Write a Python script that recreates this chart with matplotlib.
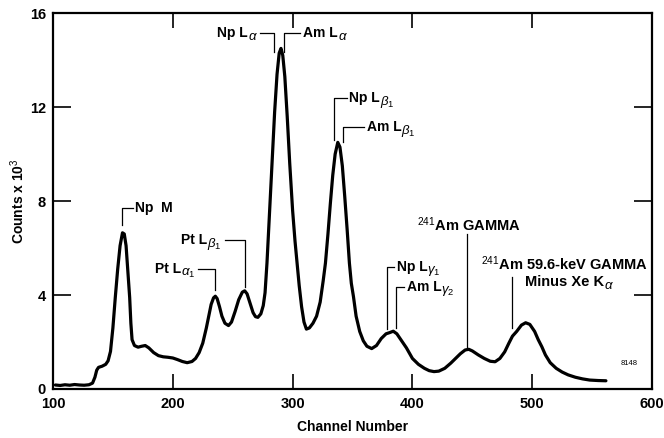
import matplotlib
matplotlib.use('Agg')
from matplotlib import pyplot as plt

plt.rcParams['font.family'] = ['Liberation Sans', 'DejaVu Sans']
plt.rcParams['mathtext.fontset'] = 'custom'
plt.rcParams['mathtext.rm'] = 'Liberation Sans'
plt.rcParams['mathtext.it'] = 'Liberation Sans:italic'
plt.rcParams['mathtext.bf'] = 'Liberation Sans:bold'

# spectrum (channel, counts x 10^3)
channel = [102, 106, 110, 114, 118, 122, 126, 130, 133, 135, 136.5, 138, 141, 144, 146, 148,
           150, 152, 154, 156, 158, 159.5, 161, 162.5, 164, 165, 166, 168, 171, 174, 177, 180,
           184, 188, 192, 196, 200, 204, 208, 212, 216, 219, 222, 225, 228, 230, 232, 234,
           235.5, 237, 239, 241, 243.5, 246.5, 249, 252, 255, 258, 260, 262, 264.5, 267, 269,
           271, 273.5, 275.5, 277, 278.6, 280.5, 282.8, 285, 287, 288.8, 290.3, 291.8, 293.5,
           295.5, 297.6, 300, 302, 303.7, 305.5, 307.5, 309.5, 311.5, 314, 317, 320, 323,
           325.5, 327.4, 329.5, 331.5, 333.5, 335.5, 337.7, 339.5, 341.5, 343.5, 345.5, 347.4,
           349, 350.8, 353, 356, 359, 362, 366, 370, 374, 378, 381, 384, 387, 391, 395, 400,
           405, 410, 414, 418, 422, 427, 432, 436, 440, 444, 447, 450, 455, 460, 465, 469,
           473, 477, 480.5, 483.5, 487, 491, 494.5, 498, 502, 505, 508, 511, 515, 520, 525,
           530, 536, 542, 548, 555, 561.5]
counts = [0.17, 0.15, 0.18, 0.16, 0.19, 0.17, 0.16, 0.18, 0.25, 0.5, 0.8, 0.92, 0.97, 1.05, 1.2, 1.6,
          2.6, 3.9, 5.1, 6.1, 6.65, 6.6, 6.1, 5.0, 3.9, 2.8, 2.1, 1.85, 1.78, 1.82, 1.85, 1.75,
          1.55, 1.42, 1.37, 1.35, 1.32, 1.25, 1.17, 1.12, 1.17, 1.3, 1.55, 1.95, 2.6, 3.1, 3.6, 3.88,
          3.95, 3.85, 3.5, 3.1, 2.8, 2.7, 2.85, 3.3, 3.8, 4.12, 4.18, 4.05, 3.65, 3.25, 3.08,
          3.05, 3.2, 3.55, 4.1, 5.36, 7.3, 9.6, 11.8, 13.4, 14.3, 14.5, 14.2, 13.3,
          11.6, 9.6, 7.6, 6.3, 5.36, 4.4, 3.5, 2.85, 2.55, 2.6, 2.8, 3.1, 3.7,
          4.6, 5.36, 6.6, 7.9, 9.1, 10.0, 10.5, 10.3, 9.5, 8.2, 6.8, 5.36,
          4.5, 3.93, 3.1, 2.45, 2.05, 1.82, 1.72, 1.85, 2.15, 2.35, 2.4, 2.46, 2.35, 2.05, 1.75, 1.3,
          1.05, 0.88, 0.78, 0.74, 0.76, 0.88, 1.1, 1.3, 1.5, 1.66, 1.69, 1.62, 1.45, 1.3, 1.18, 1.16,
          1.3, 1.58, 1.95, 2.25, 2.45, 2.72, 2.82, 2.75, 2.45, 2.1, 1.8, 1.45, 1.12, 0.88, 0.72,
          0.6, 0.5, 0.43, 0.38, 0.36, 0.35]

x_ticks = [100, 200, 300, 400, 500, 600]
y_ticks = [0, 4, 8, 12, 16]

# peak labels: text, subscript, peak channel, line bottom, line top, end of horizontal, side
labels = [
    ('Np  M', '', 157.4, 7.0, 7.7, 166.5, 'left'),
    ('Pt L', r'$\beta_1$', 260, 4.35, 6.34, 243.5, 'right'),
    ('Pt L', r'$\alpha_1$', 235.5, 4.2, 5.1, 221, 'right'),
    ('Np L', r'$\alpha$', 284.8, 14.35, 15.16, 273, 'right'),
    ('Am L', r'$\alpha$', 293, 14.35, 15.16, 306.5, 'left'),
    ('Np L', r'$\beta_1$', 334.4, 10.6, 12.4, 345, 'left'),
    ('Am L', r'$\beta_1$', 342.2, 10.5, 11.16, 359.5, 'left'),
    ('Np L', r'$\gamma_1$', 379, 2.55, 5.2, 384.5, 'left'),
    ('Am L', r'$\gamma_2$', 386.5, 2.6, 4.35, 393, 'left'),
]
gamma_lines = [(445.9, 1.8, 6.6), (483.5, 2.6, 4.78)]


fig = plt.figure(figsize=(6.64, 4.38), dpi=100)
ax = fig.add_axes([0.0798, 0.1119, 0.9022, 0.858])

ax.plot(channel, counts, color='black', linewidth=2.3, solid_joinstyle='round', solid_capstyle='round')

font = dict(fontsize=10, fontweight='bold')
subfont = dict(fontsize=9.5, fontweight='bold')
for text, sub, xp, y0, y1, xt, side in labels:
    ax.plot([xp, xp, xt], [y0, y1, y1], color='black', linewidth=0.9)
    if side == 'left':
        t = ax.annotate(text, xy=(xt, y1), xytext=(2, 0), textcoords='offset points',
                        ha='left', va='center', **font)
        if sub:
            ax.annotate(sub, xy=(1, 0.5), xycoords=t, xytext=(0, -3),
                        textcoords='offset points', ha='left', va='center', **subfont)
    else:
        s = ax.annotate(sub, xy=(xt, y1), xytext=(-2, -3), textcoords='offset points',
                        ha='right', va='center', **subfont)
        ax.annotate(text, xy=(0, 0.5), xycoords=s, xytext=(0, 3),
                    textcoords='offset points', ha='right', va='center', **font)

for xp, y0, y1 in gamma_lines:
    ax.plot([xp, xp], [y0, y1], color='black', linewidth=0.9)

ax.text(447, 7.0, r'$^{241}$Am GAMMA', ha='center', va='center', fontsize=10.5, fontweight='bold')
ax.text(526.5, 5.35, r'$^{241}$Am 59.6-keV GAMMA', ha='center', va='center', fontsize=10.5, fontweight='bold')
t = ax.annotate('Minus Xe K', xy=(527, 4.55), ha='center', va='center', fontsize=10.5, fontweight='bold')
ax.annotate(r'$\alpha$', xy=(1, 0.5), xycoords=t, xytext=(0, -3),
            textcoords='offset points', ha='left', va='center', **subfont)
ax.text(574, 1.1, '8148', ha='left', va='center', fontsize=5.5)

ax.set_xlim(100, 600)
ax.set_ylim(0, 16)
ax.set_xticks(x_ticks)
ax.set_yticks(y_ticks)
ax.tick_params(axis='both', direction='in', top=True, right=True, width=1.2, labelsize=10.5)
ax.tick_params(axis='x', length=10.5, pad=6)
ax.tick_params(axis='y', length=13, pad=5)
for lab in ax.get_xticklabels() + ax.get_yticklabels():
    lab.set_fontweight('bold')
for sp in ax.spines.values():
    sp.set_linewidth(1.6)

ax.set_xlabel('Channel Number', fontsize=10, fontweight='bold', labelpad=6)
ax.set_ylabel(r'Counts x 10$^3$', fontsize=10, fontweight='bold', labelpad=2)

fig.savefig('out.png', dpi=100)
